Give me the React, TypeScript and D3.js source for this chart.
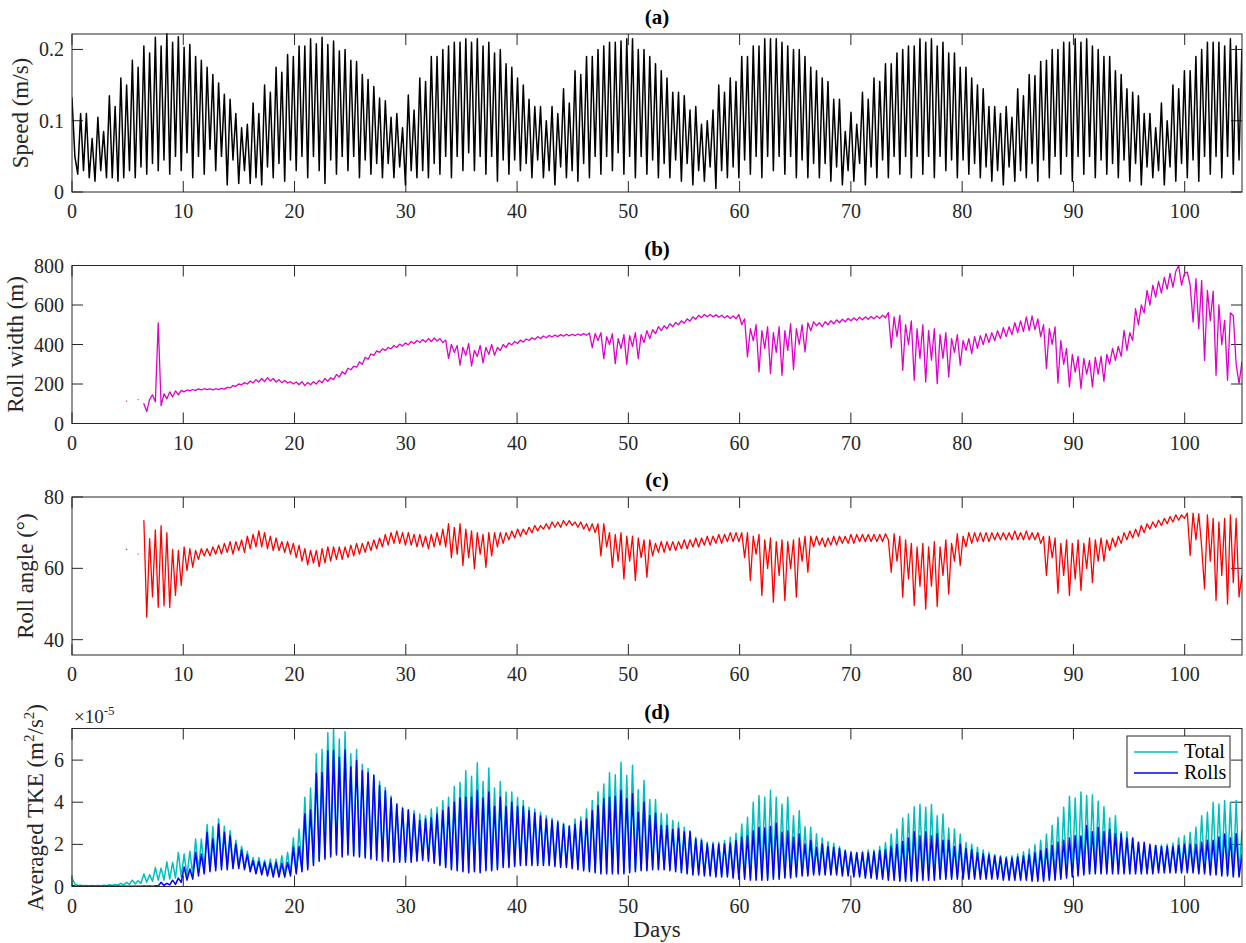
import React from "react";
import * as d3 from "d3";

// Model output sampled every 6.2 h (half of the 12.4 h tidal period), in days.
const DT = 0.258333;

const dayTicks = [0, 10, 20, 30, 40, 50, 60, 70, 80, 90, 100];
const speedTicks = [0, 0.1, 0.2];
const widthTicks = [0, 200, 400, 600, 800];
const angleTicks = [40, 60, 80];
const tkeTicks = [0, 2e-5, 4e-5, 6e-5];

// (a) Depth-averaged current speed, m/s
const speed: number[] = [
  0.132, 0.05, 0.025, 0.11, 0.03, 0.11, 0.02, 0.075, 0.015, 0.105, 0.03, 0.085, 0.02, 0.135, 0.02, 0.12, 0.015, 0.16, 0.02, 0.15,
  0.03, 0.185, 0.02, 0.175, 0.035, 0.205, 0.025, 0.195, 0.04, 0.217, 0.03, 0.205, 0.045, 0.222, 0.025, 0.21, 0.05, 0.218, 0.03, 0.203,
  0.055, 0.207, 0.02, 0.19, 0.05, 0.185, 0.025, 0.175, 0.06, 0.165, 0.03, 0.153, 0.05, 0.137, 0.01, 0.13, 0.045, 0.11, 0.012, 0.09,
  0.03, 0.095, 0.012, 0.125, 0.02, 0.11, 0.01, 0.15, 0.035, 0.14, 0.02, 0.175, 0.04, 0.168, 0.015, 0.193, 0.045, 0.19, 0.03, 0.205,
  0.05, 0.205, 0.02, 0.215, 0.05, 0.208, 0.03, 0.217, 0.012, 0.207, 0.045, 0.212, 0.025, 0.198, 0.05, 0.2, 0.03, 0.185, 0.05, 0.183,
  0.02, 0.165, 0.045, 0.158, 0.025, 0.148, 0.04, 0.132, 0.02, 0.128, 0.04, 0.105, 0.02, 0.11, 0.035, 0.09, 0.01, 0.136, 0.03, 0.115,
  0.02, 0.16, 0.03, 0.155, 0.02, 0.19, 0.04, 0.19, 0.025, 0.2, 0.05, 0.205, 0.02, 0.21, 0.05, 0.21, 0.03, 0.215, 0.055, 0.21,
  0.03, 0.215, 0.05, 0.205, 0.025, 0.21, 0.05, 0.195, 0.015, 0.2, 0.045, 0.18, 0.025, 0.175, 0.045, 0.16, 0.03, 0.15, 0.04, 0.13,
  0.02, 0.12, 0.045, 0.12, 0.02, 0.1, 0.03, 0.12, 0.01, 0.11, 0.035, 0.145, 0.02, 0.125, 0.03, 0.17, 0.015, 0.165, 0.04, 0.19,
  0.02, 0.19, 0.05, 0.2, 0.025, 0.205, 0.05, 0.21, 0.03, 0.21, 0.055, 0.212, 0.025, 0.215, 0.05, 0.215, 0.02, 0.2, 0.05, 0.2,
  0.025, 0.19, 0.045, 0.18, 0.02, 0.17, 0.04, 0.16, 0.02, 0.14, 0.045, 0.14, 0.015, 0.135, 0.04, 0.115, 0.01, 0.12, 0.03, 0.095,
  0.015, 0.1, 0.035, 0.115, 0.005, 0.15, 0.03, 0.14, 0.02, 0.16, 0.035, 0.155, 0.02, 0.19, 0.045, 0.19, 0.025, 0.205, 0.05, 0.205,
  0.02, 0.215, 0.05, 0.215, 0.03, 0.215, 0.05, 0.21, 0.025, 0.205, 0.05, 0.2, 0.02, 0.2, 0.045, 0.19, 0.02, 0.175, 0.04, 0.17,
  0.02, 0.16, 0.04, 0.155, 0.015, 0.13, 0.035, 0.13, 0.01, 0.085, 0.03, 0.112, 0.015, 0.095, 0.04, 0.14, 0.01, 0.13, 0.035, 0.16,
  0.02, 0.155, 0.045, 0.18, 0.02, 0.18, 0.05, 0.195, 0.025, 0.2, 0.05, 0.205, 0.02, 0.205, 0.05, 0.215, 0.025, 0.21, 0.05, 0.215,
  0.02, 0.205, 0.05, 0.21, 0.03, 0.195, 0.045, 0.195, 0.02, 0.175, 0.045, 0.175, 0.025, 0.16, 0.04, 0.15, 0.02, 0.145, 0.035, 0.12,
  0.015, 0.12, 0.03, 0.11, 0.01, 0.12, 0.035, 0.105, 0.015, 0.145, 0.03, 0.135, 0.02, 0.165, 0.04, 0.163, 0.015, 0.183, 0.045, 0.185,
  0.02, 0.2, 0.05, 0.2, 0.025, 0.21, 0.05, 0.21, 0.015, 0.215, 0.05, 0.21, 0.025, 0.215, 0.05, 0.205, 0.02, 0.2, 0.045, 0.19,
  0.025, 0.19, 0.04, 0.17, 0.02, 0.165, 0.045, 0.145, 0.015, 0.14, 0.04, 0.135, 0.01, 0.11, 0.035, 0.11, 0.02, 0.09, 0.03, 0.125,
  0.01, 0.1, 0.035, 0.15, 0.015, 0.145, 0.04, 0.17, 0.02, 0.17, 0.045, 0.19, 0.015, 0.2, 0.05, 0.21, 0.025, 0.21, 0.05, 0.21,
  0.02, 0.205, 0.05, 0.215, 0.025, 0.205, 0.045, 0.2,
];

// (b) Roll width, m (null where no rolls are detected)
const rollWidth: (number | null)[] = [
  null, null, null, null, null, null, null, null, null, null, null, null, null, null, null, null, null, null, null, 113,
  null, null, null, 121, null, 100, 60, 122, 145, 110, 510, 90, 150, 125, 160, 135, 165, 145, 168, 160,
  170, 165, 172, 168, 175, 170, 176, 172, 175, 170, 176, 172, 178, 174, 183, 180, 192, 188, 200, 196,
  207, 200, 215, 205, 222, 210, 228, 212, 232, 215, 228, 210, 222, 206, 218, 205, 212, 200, 210, 196,
  212, 192, 208, 196, 212, 200, 218, 206, 228, 214, 232, 222, 248, 236, 262, 250, 280, 272, 290, 285,
  312, 300, 335, 325, 352, 345, 368, 360, 378, 370, 385, 378, 395, 385, 402, 392, 408, 398, 415, 405,
  420, 410, 425, 412, 430, 415, 433, 418, 430, 410, 422, 330, 400, 360, 395, 295, 385, 345, 405, 291,
  370, 340, 395, 307, 385, 350, 400, 345, 385, 370, 400, 385, 408, 398, 415, 405, 422, 412, 428, 420,
  434, 425, 440, 430, 443, 434, 446, 438, 448, 440, 450, 442, 452, 444, 452, 445, 453, 446, 455, 447,
  458, 384, 455, 420, 460, 328, 440, 400, 455, 303, 430, 380, 450, 300, 445, 390, 460, 328, 450, 410,
  470, 430, 475, 455, 490, 470, 495, 480, 505, 490, 512, 500, 520, 508, 530, 518, 540, 528, 548, 536,
  552, 540, 552, 540, 550, 538, 548, 535, 546, 532, 545, 530, 552, 500, 530, 337, 480, 420, 500, 261,
  470, 380, 490, 253, 460, 360, 490, 244, 470, 370, 505, 273, 480, 400, 500, 362, 510, 470, 515, 495,
  510, 490, 515, 500, 520, 505, 525, 510, 528, 515, 532, 520, 535, 522, 538, 525, 540, 528, 542, 530,
  545, 532, 548, 535, 562, 384, 540, 440, 548, 270, 500, 400, 520, 219, 480, 330, 500, 210, 470, 320,
  480, 202, 450, 330, 460, 236, 430, 360, 450, 295, 420, 370, 430, 354, 440, 380, 445, 400, 455, 410,
  460, 420, 470, 430, 485, 440, 490, 450, 510, 460, 520, 465, 540, 470, 545, 475, 530, 440, 500, 278,
  480, 400, 489, 205, 420, 300, 380, 185, 350, 260, 340, 177, 330, 250, 320, 185, 335, 250, 340, 214,
  350, 300, 380, 320, 390, 340, 472, 370, 460, 420, 581, 500, 600, 560, 674, 600, 700, 640, 720, 660,
  740, 680, 760, 690, 770, 800, 700, 760, 766, 700, 514, 733, 480, 724, 320, 674, 520, 670, 244, 600,
  400, 522, 219, 560, 547, 300, 202, 311,
];

// (c) Roll angle, degrees (null where no rolls are detected)
const rollAngle: (number | null)[] = [
  null, null, null, null, null, null, null, null, null, null, null, null, null, null, null, null, null, null, null, 65.3,
  null, null, null, 64, null, 73.4, 46.3, 68.3, 52, 70.8, 49.1, 72, 49.5, 70, 49, 65.3, 52.4, 65, 55.2, 66,
  59.4, 65.5, 60.3, 65, 62.5, 65.5, 63.5, 65.5, 63.5, 66, 64, 66.5, 64, 67, 64.5, 67.5, 64, 67.5, 65, 68,
  64.5, 69, 65.5, 69.5, 66, 70.5, 66, 70, 65.5, 69, 65, 68.5, 65, 67.5, 64.5, 67.5, 64, 67, 63, 66.5,
  62, 65.5, 61, 65, 61.5, 65, 60.5, 65.5, 61.5, 66, 62, 66, 62.5, 66, 62.5, 66, 63, 66.5, 63.5, 67,
  64, 67, 64.5, 67.5, 65, 68, 65.5, 68.5, 66, 69.5, 66.5, 70, 67, 70.5, 67, 70, 66.5, 70, 66.5, 69.5,
  66, 69.5, 66, 69, 65.5, 69.5, 66, 70, 66.5, 71, 66, 72.5, 63, 71.5, 64, 72.5, 60.8, 71, 63, 70.5,
  59.9, 70, 64, 69.5, 60.3, 70, 63.5, 70, 66, 70, 67, 70, 68, 70.5, 68.5, 71, 69, 71, 69.5, 71.5,
  70, 72, 70.5, 72, 71, 72.5, 71, 73, 71.5, 73, 71.5, 73.4, 72, 73.4, 72, 73, 71.5, 73, 71, 72.5,
  70.5, 72.5, 70, 72.5, 63.5, 72.5, 66, 70, 60.3, 69.5, 62, 70, 57, 69, 62, 69, 56.6, 68.5, 63, 68,
  57.5, 68, 63.5, 67, 64.5, 67.5, 64.5, 67.5, 65, 67.5, 65, 67.5, 65.5, 68, 65.5, 68, 66, 68.5, 66, 68.5,
  66.5, 69, 66.5, 69, 67, 69.5, 67, 69.5, 67.5, 70, 67.5, 70, 67.5, 70, 63, 70, 56.6, 69, 64, 69.5,
  52.4, 68, 60, 68.5, 50.5, 67.5, 58, 68, 51, 67.5, 60, 68, 51.9, 68.5, 62, 69, 58.9, 69, 66, 69,
  66.5, 68.5, 66, 68.5, 66.5, 69, 66.5, 69, 67, 69, 67, 69.5, 67, 69.5, 67.5, 69.5, 67.5, 69.5, 67.5, 69.5,
  67.5, 69.5, 67.5, 69.7, 68, 58.9, 69.7, 62, 69, 51.9, 68, 57, 67, 49.6, 66, 55, 67, 48.6, 66, 55,
  67.5, 49.3, 66, 58, 68, 52.8, 67, 62, 69.7, 60.8, 69, 66, 70, 67, 70, 67.5, 70, 67.5, 70, 67.5,
  70, 68, 70, 68, 70, 68, 70, 68, 70.5, 68, 70, 68, 70.5, 68, 70, 68, 70, 67, 69, 58,
  69, 63, 68.5, 53, 67, 58, 68, 52.4, 67, 57, 68, 53.8, 67, 60, 68.5, 56, 68, 62, 68.5, 62,
  68, 65, 68.5, 66, 69, 67, 70, 68, 70.5, 68.5, 71, 69, 72, 70, 72.5, 71, 73, 71.5, 73.5, 72,
  74, 72.5, 74.5, 73, 75, 73.5, 75, 74, 75.5, 63.6, 75.5, 68, 75.3, 66, 54.2, 75, 62, 74, 51, 73,
  58, 74, 50, 75, 56, 74, 52, 58,
];

// (d) Averaged turbulent kinetic energy, in units of 1e-5 m^2/s^2
const TKE_UNIT = 1e-5;
const tkeTotal: number[] = [
  0.4, 0.12, 0.05, 0.06, 0.04, 0.05, 0.03, 0.05, 0.03, 0.05, 0.03, 0.06, 0.04, 0.08, 0.05, 0.1, 0.06, 0.15, 0.08, 0.2,
  0.1, 0.3, 0.12, 0.27, 0.15, 0.59, 0.2, 0.56, 0.25, 0.9, 0.3, 0.87, 0.3, 1.17, 0.35, 1.14, 0.4, 1.62, 0.45, 1.54,
  0.5, 1.67, 0.55, 2.25, 0.7, 2.25, 0.8, 2.94, 0.85, 2.85, 0.9, 3.21, 0.95, 2.86, 0.95, 2.65, 0.95, 2.2, 0.95, 1.9,
  0.9, 1.67, 0.8, 1.38, 0.7, 1.38, 0.65, 1.25, 0.6, 1.3, 0.55, 1.3, 0.55, 1.46, 0.55, 1.62, 0.6, 2.3, 0.7, 2.73,
  0.8, 4.24, 0.9, 4.68, 1.1, 6.3, 1.3, 6.5, 1.4, 7.3, 1.5, 7.5, 1.6, 7.0, 1.5, 7.35, 1.6, 6.3, 1.55, 6.5,
  1.5, 5.8, 1.45, 5.6, 1.4, 5.3, 1.35, 5.0, 1.3, 4.7, 1.3, 4.3, 1.25, 3.9, 1.25, 3.76, 1.25, 3.6, 1.25, 3.6,
  1.3, 3.44, 1.35, 3.36, 1.3, 3.68, 1.2, 3.76, 1.1, 4.08, 1.0, 4.24, 0.9, 4.75, 0.85, 4.95, 0.8, 5.5, 0.75, 5.23,
  0.8, 5.87, 0.75, 4.98, 0.85, 5.62, 0.85, 4.68, 0.9, 4.98, 1.0, 4.48, 1.0, 4.48, 1.05, 4.24, 1.1, 4.08, 1.1, 3.76,
  1.1, 3.68, 1.1, 3.52, 1.1, 3.36, 1.1, 3.24, 1.05, 3.13, 1.0, 3.0, 1.0, 2.9, 0.95, 3.2, 0.9, 3.3, 0.85, 3.68,
  0.8, 4.08, 0.75, 4.5, 0.7, 4.87, 0.7, 5.4, 0.7, 5.3, 0.7, 5.9, 0.7, 5.27, 0.75, 5.75, 0.8, 4.59, 0.85, 5.03,
  0.85, 4.13, 0.9, 4.13, 0.9, 3.48, 0.9, 3.44, 0.85, 3.13, 0.8, 3.05, 0.75, 2.81, 0.7, 2.65, 0.65, 2.34, 0.65, 2.26,
  0.6, 2.1, 0.6, 2.1, 0.55, 2.1, 0.55, 2.18, 0.55, 2.34, 0.5, 2.53, 0.45, 2.97, 0.45, 3.29, 0.4, 4.0, 0.4, 4.32,
  0.4, 4.24, 0.4, 4.56, 0.45, 4.24, 0.45, 3.92, 0.5, 4.24, 0.5, 3.36, 0.55, 3.6, 0.6, 2.84, 0.6, 2.81, 0.65, 2.5,
  0.65, 2.3, 0.65, 2.13, 0.65, 2.05, 0.65, 1.9, 0.6, 1.73, 0.6, 1.67, 0.55, 1.62, 0.55, 1.67, 0.5, 1.73, 0.5, 1.73,
  0.45, 1.9, 0.45, 2.09, 0.4, 2.49, 0.4, 2.73, 0.35, 3.25, 0.35, 3.44, 0.35, 3.79, 0.35, 3.89, 0.4, 3.76, 0.4, 3.89,
  0.4, 3.36, 0.45, 3.44, 0.45, 2.78, 0.45, 2.73, 0.45, 2.49, 0.45, 2.09, 0.45, 2.01, 0.45, 1.86, 0.45, 1.73, 0.45, 1.62,
  0.45, 1.51, 0.45, 1.46, 0.4, 1.41, 0.4, 1.46, 0.4, 1.54, 0.4, 1.65, 0.4, 1.78, 0.35, 1.98, 0.35, 2.2, 0.35, 2.49,
  0.4, 2.89, 0.4, 3.29, 0.45, 3.76, 0.5, 4.28, 0.55, 4.2, 0.6, 4.48, 0.65, 4.32, 0.7, 4.35, 0.7, 4.05, 0.7, 3.79,
  0.7, 3.25, 0.7, 3.36, 0.7, 2.6, 0.7, 2.6, 0.7, 2.3, 0.7, 2.09, 0.7, 1.97, 0.7, 1.9, 0.7, 1.94, 0.75, 1.97,
  0.75, 2.01, 0.75, 2.06, 0.75, 2.3, 0.75, 2.41, 0.75, 2.57, 0.75, 2.81, 0.7, 3.36, 0.7, 3.52, 0.65, 4.0, 0.65, 3.92,
  0.6, 4.08, 0.6, 4.0, 0.55, 4.08, 0.55, 2.62,
];
const tkeRolls: number[] = [
  0.05, 0.02, 0.01, 0.01, 0.01, 0.01, 0.01, 0.01, 0.01, 0.01, 0.01, 0.01, 0.01, 0.01, 0.01, 0.01, 0.01, 0.01, 0.01, 0.01,
  0.01, 0.01, 0.01, 0.01, 0.01, 0.02, 0.01, 0.02, 0.01, 0.03, 0.02, 0.2, 0.05, 0.15, 0.08, 0.3, 0.1, 0.4, 0.2, 0.93,
  0.3, 0.83, 0.35, 1.62, 0.5, 1.54, 0.6, 2.57, 0.7, 2.25, 0.75, 2.97, 0.8, 2.57, 0.8, 2.41, 0.85, 2.01, 0.85, 1.73,
  0.8, 1.51, 0.7, 1.22, 0.6, 1.19, 0.55, 1.14, 0.5, 1.1, 0.45, 1.14, 0.45, 1.1, 0.45, 1.14, 0.5, 1.86, 0.6, 1.9,
  0.7, 3.44, 0.8, 3.64, 1.0, 5.38, 1.2, 5.4, 1.3, 6.43, 1.4, 6.45, 1.5, 6.12, 1.4, 6.48, 1.5, 5.67, 1.45, 5.98,
  1.4, 5.5, 1.35, 5.4, 1.3, 5.27, 1.25, 4.8, 1.2, 4.55, 1.2, 4.2, 1.15, 3.92, 1.15, 3.7, 1.15, 3.64, 1.15, 3.44,
  1.2, 3.13, 1.25, 3.2, 1.2, 3.25, 1.1, 3.44, 1.0, 3.6, 0.9, 3.76, 0.8, 4.0, 0.75, 4.2, 0.7, 4.24, 0.65, 4.24,
  0.7, 4.56, 0.65, 4.2, 0.75, 4.48, 0.75, 3.8, 0.8, 4.24, 0.9, 3.8, 0.9, 4.0, 0.95, 3.8, 1.0, 3.8, 1.0, 3.6,
  1.0, 3.5, 1.0, 3.36, 1.0, 3.2, 1.0, 3.13, 0.95, 3.05, 0.9, 2.94, 0.9, 2.85, 0.85, 2.94, 0.8, 3.1, 0.75, 3.2,
  0.7, 3.6, 0.65, 3.84, 0.6, 4.16, 0.6, 4.24, 0.6, 4.27, 0.6, 4.56, 0.6, 4.16, 0.65, 4.4, 0.7, 3.52, 0.75, 4.0,
  0.75, 3.36, 0.8, 3.48, 0.8, 2.9, 0.8, 2.9, 0.75, 2.7, 0.7, 2.75, 0.65, 2.6, 0.6, 2.6, 0.55, 2.26, 0.55, 2.18,
  0.5, 2.02, 0.5, 2.0, 0.45, 2.0, 0.45, 2.02, 0.45, 2.05, 0.4, 2.18, 0.35, 2.34, 0.35, 2.41, 0.3, 2.65, 0.3, 2.81,
  0.3, 2.78, 0.3, 2.85, 0.35, 3.0, 0.35, 2.57, 0.4, 2.65, 0.4, 2.34, 0.45, 2.49, 0.5, 2.02, 0.5, 2.18, 0.55, 1.86,
  0.55, 2.0, 0.55, 1.9, 0.55, 1.85, 0.55, 1.8, 0.5, 1.7, 0.5, 1.6, 0.45, 1.6, 0.45, 1.6, 0.4, 1.6, 0.4, 1.65,
  0.35, 1.7, 0.35, 1.75, 0.3, 1.9, 0.3, 2.0, 0.25, 2.14, 0.25, 2.3, 0.25, 2.6, 0.25, 2.4, 0.3, 2.6, 0.3, 2.4,
  0.3, 2.5, 0.35, 2.2, 0.35, 2.2, 0.35, 1.9, 0.35, 2.0, 0.35, 1.8, 0.35, 1.75, 0.35, 1.6, 0.35, 1.55, 0.35, 1.5,
  0.35, 1.45, 0.35, 1.4, 0.3, 1.35, 0.3, 1.35, 0.3, 1.4, 0.3, 1.45, 0.3, 1.5, 0.25, 1.6, 0.25, 1.7, 0.25, 1.8,
  0.3, 1.95, 0.3, 2.1, 0.35, 2.2, 0.4, 2.3, 0.45, 2.41, 0.5, 2.4, 0.55, 2.89, 0.6, 2.6, 0.6, 2.8, 0.6, 2.6,
  0.6, 2.7, 0.6, 2.5, 0.6, 2.5, 0.6, 2.3, 0.6, 2.3, 0.6, 2.1, 0.6, 2.1, 0.6, 2.0, 0.6, 1.95, 0.65, 1.9,
  0.65, 1.9, 0.65, 1.9, 0.65, 1.95, 0.65, 2.0, 0.65, 2.0, 0.65, 2.0, 0.6, 2.1, 0.6, 2.2, 0.55, 2.2, 0.55, 2.35,
  0.5, 2.49, 0.5, 2.3, 0.45, 2.5, 0.45, 1.5,
];

const W = 1246;
const H = 943;
const LEFT = 72;
const RIGHT = 1242;
const PANEL_H = 158;
const TICK = 11;
const FONT = "'Liberation Serif', 'Times New Roman', Times, serif";
const AXIS = "#262626";

const x = d3.scaleLinear().domain([0, 105.15]).range([LEFT, RIGHT]);

type Series = { values: (number | null)[]; color: string; width: number; scale?: number };

type PanelProps = {
  id: string;
  top: number;
  domain: [number, number];
  yTicks: number[];
  fmt: (v: number) => string;
  title: string;
  label: React.ReactNode;
  labelX: number;
  series: Series[];
  children?: React.ReactNode;
};

function Panel({ id, top, domain, yTicks, fmt, title, label, labelX, series, children }: PanelProps) {
  const bottom = top + PANEL_H;
  const y = d3.scaleLinear().domain(domain).range([bottom, top]);
  const midY = (top + bottom) / 2;
  return (
    <g>
      <defs>
        <clipPath id={id}>
          <rect x={LEFT} y={top - 1} width={RIGHT - LEFT} height={PANEL_H + 2} />
        </clipPath>
      </defs>

      {/* ticks on all four sides, pointing inward */}
      {dayTicks.map((d) => (
        <g key={"xt" + d} stroke={AXIS} strokeWidth={1}>
          <line x1={x(d)} x2={x(d)} y1={bottom} y2={bottom - TICK} />
          <line x1={x(d)} x2={x(d)} y1={top} y2={top + TICK} />
        </g>
      ))}
      {yTicks.map((v) => (
        <g key={"yt" + v} stroke={AXIS} strokeWidth={1}>
          <line x1={LEFT} x2={LEFT + TICK} y1={y(v)} y2={y(v)} />
          <line x1={RIGHT} x2={RIGHT - TICK} y1={y(v)} y2={y(v)} />
        </g>
      ))}

      <g clipPath={`url(#${id})`}>
        {series.map((s, k) => {
          const line = d3
            .line<number | null>()
            .defined((v) => v !== null)
            .x((_, i) => x(i * DT))
            .y((v) => y((v as number) * (s.scale ?? 1)));
          return (
            <path
              key={k}
              d={line(s.values) ?? ""}
              fill="none"
              stroke={s.color}
              strokeWidth={s.width}
              strokeLinejoin="round"
              strokeLinecap="round"
            />
          );
        })}
      </g>

      <rect x={LEFT} y={top} width={RIGHT - LEFT} height={PANEL_H} fill="none" stroke={AXIS} strokeWidth={1} />

      {dayTicks.map((d) => (
        <text key={"xl" + d} x={x(d)} y={bottom + 26} textAnchor="middle" fontSize={20} fill={AXIS}>
          {d}
        </text>
      ))}
      {yTicks.map((v) => (
        <text key={"yl" + v} x={LEFT - 8} y={y(v) + 7} textAnchor="end" fontSize={20} fill={AXIS}>
          {fmt(v)}
        </text>
      ))}

      <text x={(LEFT + RIGHT) / 2} y={top - 10} textAnchor="middle" fontSize={21} fontWeight="bold" fill="#000">
        {title}
      </text>
      <text
        transform={`translate(${labelX},${midY}) rotate(-90)`}
        textAnchor="middle"
        fontSize={23}
        fill={AXIS}
      >
        {label}
      </text>
      {children}
    </g>
  );
}

export default function App() {
  const tops = [34, 265.5, 497, 728.5];
  return (
    <svg
      width={W}
      height={H}
      viewBox={`0 0 ${W} ${H}`}
      style={{ position: "absolute", left: 0, top: 0, background: "#fff", fontFamily: FONT }}
    >
      <rect x={0} y={0} width={W} height={H} fill="#fff" />

      <Panel
        id="clip-a"
        top={tops[0]}
        domain={[0, 0.2217]}
        yTicks={speedTicks}
        fmt={(v) => (v === 0 ? "0" : String(v))}
        title="(a)"
        label="Speed (m/s)"
        labelX={28}
        series={[{ values: speed, color: "#000000", width: 1.5 }]}
      />

      <Panel
        id="clip-b"
        top={tops[1]}
        domain={[0, 800]}
        yTicks={widthTicks}
        fmt={(v) => String(v)}
        title="(b)"
        label="Roll width (m)"
        labelX={23}
        series={[{ values: rollWidth, color: "#e000cc", width: 1.3 }]}
      />

      <Panel
        id="clip-c"
        top={tops[2]}
        domain={[35.7, 80]}
        yTicks={angleTicks}
        fmt={(v) => String(v)}
        title="(c)"
        label="Roll angle (°)"
        labelX={33}
        series={[{ values: rollAngle, color: "#ff0000", width: 1.3 }]}
      />

      <Panel
        id="clip-d"
        top={tops[3]}
        domain={[0, 7.5e-5]}
        yTicks={tkeTicks}
        fmt={(v) => String(Math.round(v / TKE_UNIT))}
        title="(d)"
        label={
          <>
            Averaged TKE (m
            <tspan dy={-9} fontSize={15}>2</tspan>
            <tspan dy={9}>/s</tspan>
            <tspan dy={-9} fontSize={15}>2</tspan>
            <tspan dy={9}>)</tspan>
          </>
        }
        labelX={43}
        series={[
          { values: tkeTotal, color: "#00bfbf", width: 1.5, scale: TKE_UNIT },
          { values: tkeRolls, color: "#0000ff", width: 1.5, scale: TKE_UNIT },
        ]}
      >
        {/* exponent marker for the y axis */}
        <text x={74} y={723} fontSize={19} fill={AXIS}>
          ×10
          <tspan dy={-8} fontSize={13}>-5</tspan>
        </text>

        {/* legend */}
        <g>
          <rect x={1127} y={736} width={103} height={51} fill="#fff" stroke={AXIS} strokeWidth={1} />
          <line x1={1134} x2={1178} y1={752} y2={752} stroke="#00bfbf" strokeWidth={1.5} />
          <text x={1184} y={758} fontSize={20} fill="#000">Total</text>
          <line x1={1134} x2={1178} y1={773} y2={773} stroke="#0000ff" strokeWidth={1.5} />
          <text x={1184} y={779} fontSize={20} fill="#000">Rolls</text>
        </g>
      </Panel>

      <text x={(LEFT + RIGHT) / 2} y={937} textAnchor="middle" fontSize={23} fill={AXIS}>
        Days
      </text>
    </svg>
  );
}
